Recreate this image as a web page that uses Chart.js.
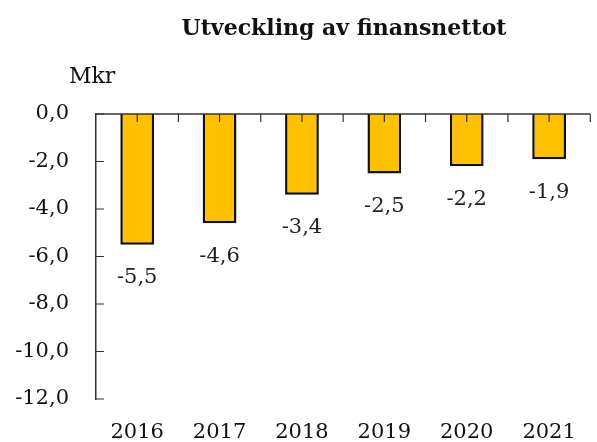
<!DOCTYPE html>
<html>
<head>
<meta charset="utf-8">
<script src="https://cdn.jsdelivr.net/npm/chart.js@4.4.0/dist/chart.umd.min.js"></script>
<style>
  html, body { margin: 0; padding: 0; background: #fff; }
  #wrap { width: 597px; height: 442px; }
</style>
</head>
<body>
<div id="wrap"><canvas id="finansnetto" width="597" height="442"></canvas></div>
<script>
const years = ['2016', '2017', '2018', '2019', '2020', '2021']
const finansnetto = [-5.5, -4.6, -3.4, -2.5, -2.2, -1.9]
const chartTitle = 'Utveckling av finansnettot'
const unitLabel = 'Mkr'

const serif = '"DejaVu Serif", "Liberation Serif", serif'
const fmt = v => v.toFixed(1).replace('.', ',')

// titel, enhet, nollinje, tickmarkeringar och dataetiketter
const extras = {
    id: 'extras',
    afterDatasetsDraw(chart) {
        const ctx = chart.ctx
        const x = chart.scales.x
        const y = chart.scales.y
        const area = chart.chartArea
        const y0 = y.getPixelForValue(0)

        ctx.save()
        ctx.fillStyle = '#111'
        ctx.textAlign = 'center'
        ctx.textBaseline = 'middle'
        ctx.font = 'bold 22px ' + serif
        ctx.fillText(chartTitle, 344, 29)

        ctx.font = '22px ' + serif
        ctx.textAlign = 'left'
        ctx.fillText(unitLabel, 69, 77)

        // nollinje
        ctx.strokeStyle = '#333'
        ctx.lineWidth = 1.5
        ctx.beginPath()
        ctx.moveTo(area.left, y0)
        ctx.lineTo(area.right, y0)
        ctx.stroke()

        // x-ticks (mitten och gränser)
        const step = (x.getPixelForValue(1) - x.getPixelForValue(0)) / 2
        ctx.lineWidth = 1.2
        ctx.beginPath()
        for (let i = 0; i < years.length; i++) {
            const cx = x.getPixelForValue(i)
            ctx.moveTo(cx, y0); ctx.lineTo(cx, y0 + 8)
            ctx.moveTo(cx + step, y0); ctx.lineTo(cx + step, y0 + 8)
        }
        ctx.stroke()

        // y-ticks inåt
        ctx.beginPath()
        y.ticks.forEach(t => {
            const py = y.getPixelForValue(t.value)
            ctx.moveTo(area.left, py); ctx.lineTo(area.left + 8, py)
        })
        ctx.stroke()

        // dataetiketter
        ctx.font = '21px ' + serif
        ctx.textAlign = 'center'
        ctx.fillStyle = '#222'
        const meta = chart.getDatasetMeta(0)
        meta.data.forEach((bar, i) => {
            ctx.fillText(fmt(finansnetto[i]), bar.x, bar.y + 33)
        })
        ctx.restore()
    }
}

new Chart(document.getElementById('finansnetto'), {
    type: 'bar',
    data: {
        labels: years,
        datasets: [{
            data: finansnetto,
            backgroundColor: '#FFC000',
            borderColor: '#111',
            borderWidth: 2.5,
            borderSkipped: 'start',
            barPercentage: 0.41,
            categoryPercentage: 1
        }]
    },
    options: {
        responsive: false,
        animation: false,
        layout: { padding: { top: 114, right: 2, left: 0, bottom: 0 } },
        scales: {
            x: {
                position: 'bottom',
                grid: { display: false, drawTicks: false },
                border: { display: false },
                ticks: { color: '#111', padding: 21, font: { family: serif, size: 21 } },
                afterFit: s => { s.height = 43 }
            },
            y: {
                min: -12,
                max: 0,
                grid: { display: false, drawTicks: false },
                border: { display: true, color: '#333', width: 1.5 },
                ticks: {
                    stepSize: 2,
                    padding: 27,
                    color: '#111',
                    font: { family: serif, size: 21 },
                    callback: v => fmt(v)
                },
                afterFit: s => { s.width = 96 }
            }
        },
        plugins: {
            legend: { display: false },
            title: { display: false },
            tooltip: { enabled: false }
        }
    },
    plugins: [extras]
});
</script>
</body>
</html>
